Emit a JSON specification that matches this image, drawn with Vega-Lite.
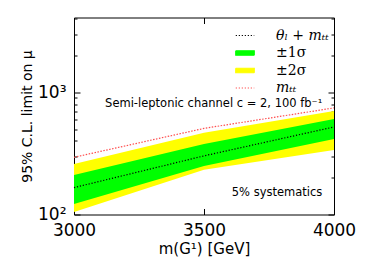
{
  "$schema": "https://vega.github.io/schema/vega-lite/v6.json",
  "width": 260,
  "height": 197,
  "autosize": {"type": "none"},
  "padding": {"left": 74, "top": 17.5, "right": 40, "bottom": 65.5},
  "background": "white",
  "config": {
    "view": {"stroke": "black", "strokeWidth": 1},
    "axis": {"domain": false, "grid": false, "tickColor": "black", "labelColor": "black", "titleColor": "black", "labelFont": "DejaVu Sans", "titleFont": "DejaVu Sans", "titleFontWeight": "normal", "labelFlush": false, "labelOverlap": false, "tickWidth": 1}
  },
  "data": {
    "values": [
      {"mass": 3000, "y2lo": 105, "y1lo": 122, "med": 166, "y1hi": 211, "y2hi": 259, "mtt": 294},
      {"mass": 3500, "y2lo": 232, "y1lo": 250, "med": 302, "y1hi": 378, "y2hi": 466, "mtt": 507},
      {"mass": 4000, "y2lo": 338, "y1lo": 416, "med": 521, "y1hi": 606, "y2hi": 705, "mtt": 746}
    ]
  },
  "resolve": {"axis": {"x": "independent", "y": "independent"}},
  "layer": [
    {
      "mark": {"type": "area", "opacity": 1},
      "encoding": {
        "x": {"field": "mass", "type": "quantitative", "scale": {"domain": [3000, 4000], "nice": false, "zero": false},
          "axis": {"orient": "bottom", "values": [3000, 3500, 4000], "format": "d", "tickSize": -6, "labelFontSize": 17, "labelPadding": 14, "title": "m(G¹) [GeV]", "titleFontSize": 15, "titlePadding": 3}},
        "y": {"field": "y2lo", "type": "quantitative", "scale": {"type": "log", "domain": [100, 4100], "nice": false},
          "axis": {"orient": "left", "values": [100, 200, 300, 400, 500, 600, 700, 800, 900, 1000, 2000, 3000, 4000],
            "labelExpr": "datum.value == 100 ? '10²' : datum.value == 1000 ? '10³' : ''",
            "tickSize": {"condition": {"test": "datum.value == 100 || datum.value == 1000", "value": -6}, "value": -3},
            "labelFontSize": 17, "labelPadding": 14, "title": "95% C.L. limit on μ", "titleFontSize": 14, "titlePadding": 3}},
        "y2": {"field": "y2hi"},
        "color": {"datum": "±2σ",
          "scale": {"domain": ["θₗ + mₜₜ", "±1σ", "±2σ", "mₜₜ"], "range": ["black", "#00ff00", "#ffff00", "#ff4d4d"]},
          "legend": {
            "orient": "none", "legendX": 164, "legendY": 11, "title": null,
            "symbolSize": 100, "labelOffset": 24, "rowPadding": 3.5,
            "labelFont": "DejaVu Serif", "labelFontSize": 14, "labelColor": "black",
            "encoding": {
              "symbols": {
                "shape": {"condition": {"test": "datum.value === '±1σ' || datum.value === '±2σ'", "value": "M-1.85,-0.45H1.85V0.45H-1.85Z"}, "value": "M-1.85,0H1.85"},
                "size": {"value": 100},
                "fill": {"condition": [{"test": "datum.value === '±1σ'", "value": "#00ff00"}, {"test": "datum.value === '±2σ'", "value": "#ffff00"}], "value": "transparent"},
                "stroke": {"condition": [{"test": "datum.value === '±1σ'", "value": "#00ff00"}, {"test": "datum.value === '±2σ'", "value": "#ffff00"}, {"test": "datum.value === 'mₜₜ'", "value": "#ff4d4d"}], "value": "black"},
                "strokeDash": {"condition": {"test": "datum.value === '±1σ' || datum.value === '±2σ'", "value": [1, 0]}, "value": [1.2, 1.8]},
                "strokeWidth": {"value": 1.2},
                "opacity": {"value": 1}
              },
              "labels": {
                "fontStyle": {"condition": {"test": "datum.value === '±1σ' || datum.value === '±2σ'", "value": "normal"}, "value": "italic"}
              }
            }
          }}
      }
    },
    {
      "mark": {"type": "area", "opacity": 1},
      "encoding": {
        "x": {"field": "mass", "type": "quantitative", "axis": null},
        "y": {"field": "y1lo", "type": "quantitative", "axis": null},
        "y2": {"field": "y1hi"},
        "color": {"datum": "±1σ"}
      }
    },
    {
      "mark": {"type": "line", "strokeDash": [1.2, 1.8], "strokeWidth": 1.2},
      "encoding": {
        "x": {"field": "mass", "type": "quantitative",
          "axis": {"orient": "top", "values": [3000, 3500, 4000], "tickSize": -6, "labels": false, "title": null}},
        "y": {"field": "med", "type": "quantitative",
          "axis": {"orient": "right", "values": [100, 200, 300, 400, 500, 600, 700, 800, 900, 1000, 2000, 3000, 4000], "labels": false, "title": null,
            "tickSize": {"condition": {"test": "datum.value == 100 || datum.value == 1000", "value": -6}, "value": -3}}},
        "color": {"datum": "θₗ + mₜₜ"}
      }
    },
    {
      "mark": {"type": "line", "strokeDash": [1.5, 1.5], "strokeWidth": 1.2},
      "encoding": {
        "x": {"field": "mass", "type": "quantitative", "axis": null},
        "y": {"field": "mtt", "type": "quantitative", "axis": null},
        "color": {"datum": "mₜₜ"}
      }
    },
    {
      "data": {"values": [{"label": "Semi-leptonic channel c = 2, 100 fb⁻¹"}]},
      "mark": {"type": "text", "align": "right", "baseline": "middle", "font": "DejaVu Sans", "fontSize": 11.5, "color": "black"},
      "encoding": {
        "x": {"datum": 3955, "type": "quantitative", "axis": null},
        "y": {"datum": 810, "type": "quantitative", "axis": null},
        "text": {"field": "label"}
      }
    },
    {
      "data": {"values": [{"label": "5% systematics"}]},
      "mark": {"type": "text", "align": "right", "baseline": "middle", "font": "DejaVu Sans", "fontSize": 11.5, "color": "black"},
      "encoding": {
        "x": {"datum": 3955, "type": "quantitative", "axis": null},
        "y": {"datum": 149, "type": "quantitative", "axis": null},
        "text": {"field": "label"}
      }
    }
  ]
}
